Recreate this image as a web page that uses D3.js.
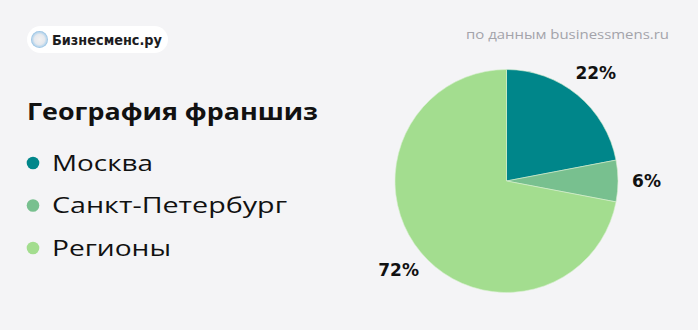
<!DOCTYPE html>
<html>
<head>
<meta charset="utf-8">
<script src="https://cdn.jsdelivr.net/npm/d3@7"></script>
<style>
  html, body { margin: 0; padding: 0; background: #f4f4f6; }
  svg { display: block; }
</style>
</head>
<body>
<svg id="chart" width="698" height="330"></svg>
<script>
const categories = ["Москва", "Санкт-Петербург", "Регионы"];
const values = [22, 6, 72];
const valueLabels = ["22%", "6%", "72%"];
const colors = ["#00868a", "#78c08f", "#a3dd8f"];
const title = "География франшиз";
const source = "по данным businessmens.ru";
const brand = "Бизнесменс.ру";

const svg = d3.select("#chart");
svg.append("rect").attr("width", 698).attr("height", 330).attr("fill", "#f4f4f6");

// Logo pill
const logo = svg.append("g");
logo.append("rect").attr("x", 27).attr("y", 26).attr("width", 141).attr("height", 27)
  .attr("rx", 13.5).attr("fill", "#ffffff");
const defs = svg.append("defs");
const rg = defs.append("radialGradient").attr("id", "ic");
rg.append("stop").attr("offset", "0%").attr("stop-color", "#f2f2f2");
rg.append("stop").attr("offset", "60%").attr("stop-color", "#e6e9ee");
rg.append("stop").attr("offset", "85%").attr("stop-color", "#b9d6ec");
rg.append("stop").attr("offset", "100%").attr("stop-color", "#8fbde0");
logo.append("circle").attr("cx", 39.5).attr("cy", 39.5).attr("r", 8.5).attr("fill", "url(#ic)");
logo.append("text").attr("x", 52).attr("y", 45).text(brand)
  .attr("font-family", "DejaVu Sans").attr("font-weight", "bold").attr("font-size", 14.5)
  .attr("fill", "#1d1d1f").attr("textLength", 110).attr("lengthAdjust", "spacingAndGlyphs");

// Source
svg.append("text").attr("x", 466).attr("y", 39).text(source)
  .attr("font-family", "Open Sans").attr("font-size", 13).attr("fill", "#a3a3aa")
  .attr("textLength", 203).attr("lengthAdjust", "spacingAndGlyphs");

// Title
svg.append("text").attr("x", 27).attr("y", 119.5).text(title)
  .attr("font-family", "Open Sans").attr("font-weight", "bold").attr("font-size", 23)
  .attr("fill", "#111").attr("textLength", 291).attr("lengthAdjust", "spacingAndGlyphs");

// Legend
const legendY = d3.scaleLinear().domain([0, 2]).range([163, 248]);
const leg = svg.append("g").selectAll("g").data(categories).join("g");
leg.append("circle").attr("cx", 33).attr("cy", (d, i) => legendY(i)).attr("r", 6.3)
  .attr("fill", (d, i) => colors[i]);
const legWidths = [101, 235, 119];
leg.append("text").attr("x", 52).attr("y", (d, i) => legendY(i) + 7.5).text(d => d)
  .attr("font-family", "Open Sans").attr("font-size", 21.5).attr("fill", "#111")
  .attr("textLength", (d, i) => legWidths[i]).attr("lengthAdjust", "spacingAndGlyphs");

// Pie
const cx = 506.5, cy = 181, R = 111.5;
const pie = d3.pie().sort(null).value(d => d)(values);
const arc = d3.arc().innerRadius(0).outerRadius(R);
const labelArc = d3.arc().innerRadius(140).outerRadius(140);
const g = svg.append("g").attr("transform", `translate(${cx},${cy})`);
g.selectAll("path").data(pie).join("path")
  .attr("d", arc).attr("fill", (d, i) => colors[i])
  .attr("stroke", "#d8f0d0").attr("stroke-width", 0.6);
g.selectAll("text").data(pie).join("text")
  .attr("transform", d => `translate(${labelArc.centroid(d)})`)
  .attr("text-anchor", "middle").attr("dy", "0.36em")
  .attr("font-family", "DejaVu Sans").attr("font-weight", "bold").attr("font-size", 17)
  .attr("fill", "#111")
  .text((d, i) => valueLabels[i]);
</script>
</body>
</html>
